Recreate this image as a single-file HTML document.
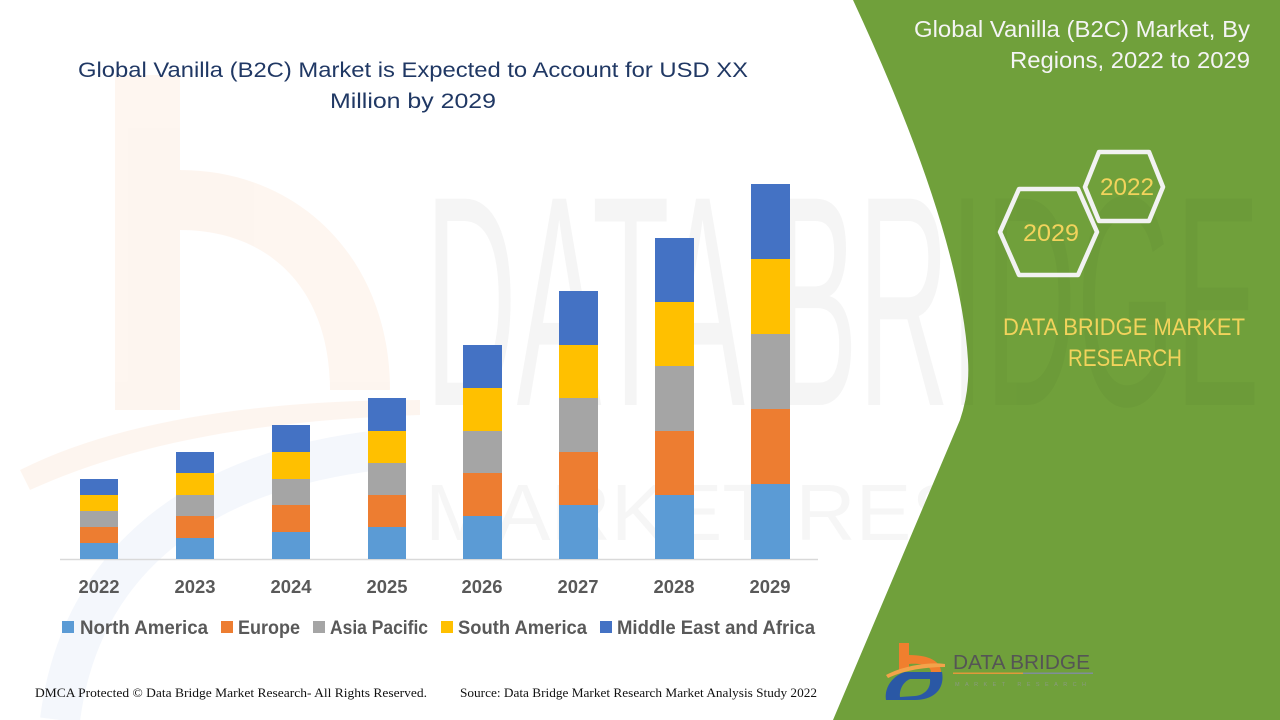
<!DOCTYPE html>
<html>
<head>
<meta charset="utf-8">
<style>
  html,body{margin:0;padding:0;background:#fff;}
  svg{display:block;}
  text{font-family:"Liberation Sans",Arial,sans-serif;}
</style>
</head>
<body>
<svg width="1280" height="720" viewBox="0 0 1280 720" xmlns="http://www.w3.org/2000/svg">
  <rect x="0" y="0" width="1280" height="720" fill="#ffffff"/>

  <!-- faint watermark: orange b -->
  <g opacity="0.07" fill="#ed7d31">
    <rect x="115" y="75" width="65" height="335"/>
    <path d="M180,170 C300,170 390,260 390,390 L330,390 C330,290 270,230 180,230 Z"/>
    <path d="M20,470 C120,420 260,400 420,400 L420,415 C270,420 140,440 30,490 Z"/>
  </g>
  <!-- faint watermark: blue swoosh -->
  <g opacity="0.06" fill="none" stroke="#4472c4" stroke-width="40">
    <path d="M60,720 C80,560 200,470 380,450"/>
  </g>
  <!-- faint watermark text -->
  <text x="425" y="405" font-size="300" fill="#000" opacity="0.035" textLength="835" lengthAdjust="spacingAndGlyphs">DATA BRIDGE</text>
  <text x="425" y="540" font-size="80" fill="#000" opacity="0.03" textLength="835" lengthAdjust="spacingAndGlyphs">MARKET RESEARCH</text>

  <!-- green panel -->
  <path d="M853,0 Q960,230 968,360 Q970,390 960,420 L833,720 L1280,720 L1280,0 Z" fill="#70a03b"/>
  <!-- faint watermark over green -->
  <text x="425" y="405" font-size="300" fill="#000" opacity="0.025" textLength="835" lengthAdjust="spacingAndGlyphs" clip-path="url(#gclip)">DATA BRIDGE</text>
  <defs>
    <clipPath id="gclip"><path d="M853,0 Q960,230 968,360 Q970,390 960,420 L833,720 L1280,720 L1280,0 Z"/></clipPath>
  </defs>

  <!-- chart title -->
  <text x="413" y="77" font-size="21" fill="#203864" text-anchor="middle" textLength="670" lengthAdjust="spacingAndGlyphs">Global Vanilla (B2C) Market is Expected to Account for USD XX</text>
  <text x="413" y="108" font-size="21" fill="#203864" text-anchor="middle" textLength="166" lengthAdjust="spacingAndGlyphs">Million by 2029</text>

  <!-- axis line -->
  <line x1="60" y1="559.5" x2="818" y2="559.5" stroke="#d9d9d9" stroke-width="1.5"/>

  <!-- bars -->
  <g>
    <!-- 2022 -->
    <rect x="80" y="543" width="38" height="16" fill="#5b9bd5"/>
    <rect x="80" y="527" width="38" height="16" fill="#ed7d31"/>
    <rect x="80" y="511" width="38" height="16" fill="#a5a5a5"/>
    <rect x="80" y="495" width="38" height="16" fill="#ffc000"/>
    <rect x="80" y="479" width="38" height="16" fill="#4472c4"/>
    <!-- 2023 -->
    <rect x="176" y="538" width="38" height="21" fill="#5b9bd5"/>
    <rect x="176" y="516" width="38" height="22" fill="#ed7d31"/>
    <rect x="176" y="495" width="38" height="21" fill="#a5a5a5"/>
    <rect x="176" y="473" width="38" height="22" fill="#ffc000"/>
    <rect x="176" y="452" width="38" height="21" fill="#4472c4"/>
    <!-- 2024 -->
    <rect x="272" y="532" width="38" height="27" fill="#5b9bd5"/>
    <rect x="272" y="505" width="38" height="27" fill="#ed7d31"/>
    <rect x="272" y="479" width="38" height="26" fill="#a5a5a5"/>
    <rect x="272" y="452" width="38" height="27" fill="#ffc000"/>
    <rect x="272" y="425" width="38" height="27" fill="#4472c4"/>
    <!-- 2025 -->
    <rect x="368" y="527" width="38" height="32" fill="#5b9bd5"/>
    <rect x="368" y="495" width="38" height="32" fill="#ed7d31"/>
    <rect x="368" y="463" width="38" height="32" fill="#a5a5a5"/>
    <rect x="368" y="431" width="38" height="32" fill="#ffc000"/>
    <rect x="368" y="398" width="38" height="33" fill="#4472c4"/>
    <!-- 2026 -->
    <rect x="463" y="516" width="39" height="43" fill="#5b9bd5"/>
    <rect x="463" y="473" width="39" height="43" fill="#ed7d31"/>
    <rect x="463" y="431" width="39" height="42" fill="#a5a5a5"/>
    <rect x="463" y="388" width="39" height="43" fill="#ffc000"/>
    <rect x="463" y="345" width="39" height="43" fill="#4472c4"/>
    <!-- 2027 -->
    <rect x="559" y="505" width="39" height="54" fill="#5b9bd5"/>
    <rect x="559" y="452" width="39" height="53" fill="#ed7d31"/>
    <rect x="559" y="398" width="39" height="54" fill="#a5a5a5"/>
    <rect x="559" y="345" width="39" height="53" fill="#ffc000"/>
    <rect x="559" y="291" width="39" height="54" fill="#4472c4"/>
    <!-- 2028 -->
    <rect x="655" y="495" width="39" height="64" fill="#5b9bd5"/>
    <rect x="655" y="431" width="39" height="64" fill="#ed7d31"/>
    <rect x="655" y="366" width="39" height="65" fill="#a5a5a5"/>
    <rect x="655" y="302" width="39" height="64" fill="#ffc000"/>
    <rect x="655" y="238" width="39" height="64" fill="#4472c4"/>
    <!-- 2029 -->
    <rect x="751" y="484" width="39" height="75" fill="#5b9bd5"/>
    <rect x="751" y="409" width="39" height="75" fill="#ed7d31"/>
    <rect x="751" y="334" width="39" height="75" fill="#a5a5a5"/>
    <rect x="751" y="259" width="39" height="75" fill="#ffc000"/>
    <rect x="751" y="184" width="39" height="75" fill="#4472c4"/>
  </g>

  <!-- x labels -->
  <g font-size="18" font-weight="bold" fill="#595959" text-anchor="middle">
    <text x="99" y="593" textLength="41" lengthAdjust="spacingAndGlyphs">2022</text>
    <text x="195" y="593" textLength="41" lengthAdjust="spacingAndGlyphs">2023</text>
    <text x="291" y="593" textLength="41" lengthAdjust="spacingAndGlyphs">2024</text>
    <text x="387" y="593" textLength="41" lengthAdjust="spacingAndGlyphs">2025</text>
    <text x="482" y="593" textLength="41" lengthAdjust="spacingAndGlyphs">2026</text>
    <text x="578" y="593" textLength="41" lengthAdjust="spacingAndGlyphs">2027</text>
    <text x="674" y="593" textLength="41" lengthAdjust="spacingAndGlyphs">2028</text>
    <text x="770" y="593" textLength="41" lengthAdjust="spacingAndGlyphs">2029</text>
  </g>

  <!-- legend -->
  <g>
    <rect x="62" y="621" width="12" height="12" fill="#5b9bd5"/>
    <rect x="221" y="621" width="12" height="12" fill="#ed7d31"/>
    <rect x="313" y="621" width="12" height="12" fill="#a5a5a5"/>
    <rect x="441" y="621" width="12" height="12" fill="#ffc000"/>
    <rect x="600" y="621" width="12" height="12" fill="#4472c4"/>
  </g>
  <g font-size="19" font-weight="bold" fill="#595959">
    <text x="80" y="634" textLength="128" lengthAdjust="spacingAndGlyphs">North America</text>
    <text x="238" y="634" textLength="62" lengthAdjust="spacingAndGlyphs">Europe</text>
    <text x="330" y="634" textLength="98" lengthAdjust="spacingAndGlyphs">Asia Pacific</text>
    <text x="458" y="634" textLength="129" lengthAdjust="spacingAndGlyphs">South America</text>
    <text x="617" y="634" textLength="198" lengthAdjust="spacingAndGlyphs">Middle East and Africa</text>
  </g>

  <!-- footer -->
  <g font-family="'Liberation Serif',serif" font-size="12.5" fill="#111">
    <text x="35" y="697" textLength="392" lengthAdjust="spacingAndGlyphs" style="font-family:'Liberation Serif',serif">DMCA Protected © Data Bridge Market Research- All Rights Reserved.</text>
    <text x="460" y="697" textLength="357" lengthAdjust="spacingAndGlyphs" style="font-family:'Liberation Serif',serif">Source: Data Bridge Market Research Market Analysis Study 2022</text>
  </g>

  <!-- right panel title -->
  <g font-size="23.5" fill="#f4f4f4" text-anchor="end">
    <text x="1250" y="37" textLength="336" lengthAdjust="spacingAndGlyphs">Global Vanilla (B2C) Market, By</text>
    <text x="1250" y="68" textLength="240" lengthAdjust="spacingAndGlyphs">Regions, 2022 to 2029</text>
  </g>

  <!-- hexagons -->
  <g fill="none" stroke="#f2f2f2" stroke-width="4.5" stroke-linejoin="round">
    <polygon points="1085,187 1099,152 1149,152 1163,187 1149,221 1099,221"/>
    <polygon points="1000,232 1019,189 1078,189 1097,232 1078,275 1019,275"/>
  </g>
  <g font-size="24" fill="#f2d35c" text-anchor="middle">
    <text x="1127" y="195" textLength="54" lengthAdjust="spacingAndGlyphs">2022</text>
    <text x="1051" y="241" textLength="56" lengthAdjust="spacingAndGlyphs">2029</text>
  </g>

  <!-- DATA BRIDGE MARKET RESEARCH -->
  <g font-size="24" fill="#f2d35c" text-anchor="middle">
    <text x="1124" y="335" textLength="242" lengthAdjust="spacingAndGlyphs">DATA BRIDGE MARKET</text>
    <text x="1125" y="366" textLength="114" lengthAdjust="spacingAndGlyphs">RESEARCH</text>
  </g>

  <!-- bottom logo -->
  <g>
    <!-- orange b -->
    <rect x="899" y="643" width="10" height="28" fill="#f07f2e"/>
    <path d="M909,655 C930,655 941,662 941,672 L931,672 C931,666 922,663 909,664 Z" fill="#f07f2e"/>
    <path d="M886,675 C905,665 930,662 945,664 L945,667 C925,667 905,670 888,678 Z" fill="#f3a34a"/>
    <!-- blue D swoosh -->
    <path d="M886,700 C884,688 892,676 905,672 L942,672 C945,688 935,700 915,700 Z" fill="#2a58a5"/>
    <path d="M900,697 C899,690 903,682 910,679 L930,679 C931,688 925,695 915,696 Z" fill="#70a03b"/>
    <text x="953" y="669" font-size="20" fill="#555" textLength="137" lengthAdjust="spacingAndGlyphs">DATA BRIDGE</text>
    <rect x="953" y="672.5" width="70" height="1.5" fill="#e0993a"/>
    <rect x="1023" y="672.5" width="70" height="1.5" fill="#7f8e9a"/>
    <text x="955" y="686" font-size="5.5" fill="#8a9a80" textLength="135" lengthAdjust="spacing" letter-spacing="4">MARKET RESEARCH</text>
  </g>
</svg>
</body>
</html>
